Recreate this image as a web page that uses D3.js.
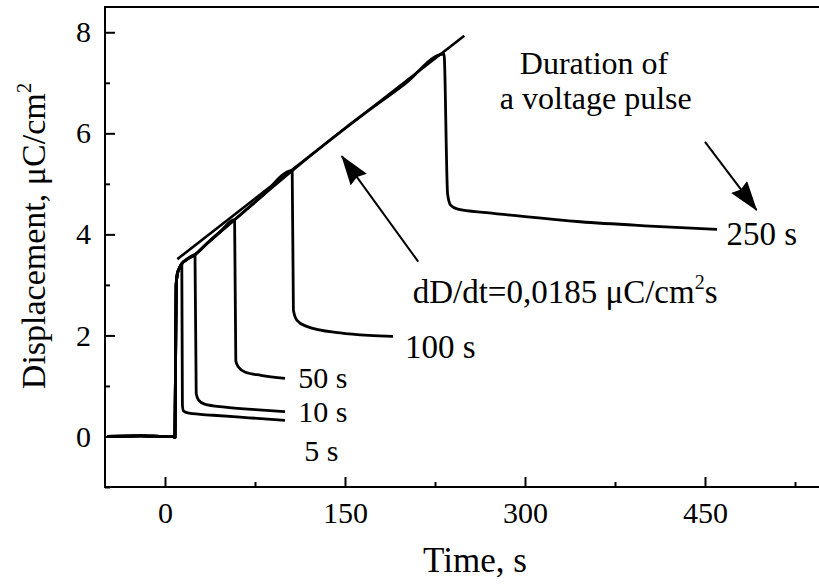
<!DOCTYPE html>
<html lang="en">
<head>
<meta charset="utf-8">
<title>Displacement vs time</title>
<script src="https://d3js.org/d3.v7.min.js"></script>
<style>
  body { margin: 0; background: #fff; }
</style>
</head>
<body>
<svg id="chart" width="819" height="586"></svg>
<script>
// common charging curve (time s, displacement uC/cm2)
var charging = [[-48, 0.0], [-20, 0.01], [0, 0.0], [7, 0.0], [8.3, -0.02], [9.3, 3.0], [10.3, 3.22],
    [12, 3.33], [14, 3.42], [18, 3.5], [25, 3.6], [35, 3.82], [45, 4.03], [58, 4.29], [80, 4.74],
    [106, 5.26], [150, 6.1], [200, 6.98], [232.5, 7.57]];

// relaxation after each pulse
var pulse5 = [[14, 3.42], [14.5, 0.62], [15.5, 0.5], [20, 0.46], [40, 0.42], [70, 0.37], [100, 0.32]];
var pulse10 = [[25, 3.6], [26, 0.85], [28, 0.72], [33, 0.64], [50, 0.58], [75, 0.53], [100, 0.49]];
var pulse50 = [[58, 4.29], [59, 1.5], [61, 1.38], [67, 1.27], [80, 1.21], [100, 1.15]];
var pulse100 = [[106, 5.26], [107, 2.5], [110, 2.3], [118, 2.18], [146, 2.05], [170, 2.0], [190, 1.98]];
var pulse250 = [[232.5, 7.57], [235.5, 4.8], [238, 4.58], [244, 4.5], [268, 4.43], [300, 4.35],
    [346, 4.25], [400, 4.17], [460, 4.1]];

var pulseNames = ['5 s', '10 s', '50 s', '100 s', '250 s'];
var pulses = [pulse5, pulse10, pulse50, pulse100, pulse250];
// label anchor (time, displacement) for each pulse name
var labelPos = [[116, -0.48], [111, 0.29], [111, 0.95], [200, 1.56], [468, 3.79]];
var labelSize = [30, 30, 30, 33, 33];

// fitted slope dD/dt = 0.0185
var slopeLine = [[10.3, 3.51], [249.4, 7.93]];

var xTicks = [0, 150, 300, 450];
var xMinor = [75, 225, 375, 525];
var yTicks = [0, 2, 4, 6, 8];
var yMinor = [-1, 1, 3, 5, 7];

var font = '"Liberation Serif", "Times New Roman", "DejaVu Serif", serif';

var margin = {left: 105, top: 7};
var width = 720, height = 480;

var svg = d3.select('#chart');
var g = svg.append('g').attr('transform', 'translate(' + margin.left + ',' + margin.top + ')');

var x = d3.scaleLinear().domain([-50, 550]).range([0, width]);
var y = d3.scaleLinear().domain([-1, 8.5]).range([height, 0]);

// axes, ticks pointing inward
g.append('g').attr('transform', 'translate(0,' + height + ')')
    .call(d3.axisBottom(x).tickValues(xTicks).tickSize(-10).tickPadding(15).tickFormat(d3.format('d')));
g.append('g').attr('transform', 'translate(0,' + height + ')')
    .call(d3.axisBottom(x).tickValues(xMinor).tickSize(-5).tickFormat(''));
g.append('g')
    .call(d3.axisLeft(y).tickValues(yTicks).tickSize(-10).tickPadding(14).tickFormat(d3.format('d')));
g.append('g').call(d3.axisLeft(y).tickValues(yMinor).tickSize(-5).tickFormat(''));

g.selectAll('.domain').remove();
g.selectAll('.tick line').attr('stroke', '#000').attr('stroke-width', 2);
g.selectAll('.tick text').style('font-size', '30px').style('font-family', font).attr('fill', '#000');

// frame
g.append('rect').attr('x', 0).attr('y', 0).attr('width', width).attr('height', height)
    .attr('fill', 'none').attr('stroke', '#000').attr('stroke-width', 2);

// axis titles
svg.append('text').attr('x', 475).attr('y', 572).attr('text-anchor', 'middle')
    .style('font-family', font).style('font-size', '35px').text('Time, s');

var ylab = svg.append('text').attr('transform', 'translate(45,236) rotate(-90)')
    .attr('text-anchor', 'middle').style('font-family', font).style('font-size', '34px');
ylab.append('tspan').text('Displacement, \u03bcC/cm');
ylab.append('tspan').attr('dy', -14).style('font-size', '21px').text('2');

var line = d3.line().x(function (d) { return x(d[0]); }).y(function (d) { return y(d[1]); })
    .curve(d3.curveMonotoneX);

// curves
pulses.forEach(function (p) {
    var pts = charging.filter(function (d) { return d[0] < p[0][0]; }).concat(p);
    g.append('path').datum(pts).attr('d', line)
        .attr('fill', 'none').attr('stroke', '#000').attr('stroke-width', 2.8)
        .attr('stroke-linejoin', 'round');
});

g.append('path').datum(slopeLine)
    .attr('d', d3.line().x(function (d) { return x(d[0]); }).y(function (d) { return y(d[1]); }))
    .attr('fill', 'none').attr('stroke', '#000').attr('stroke-width', 2.6);

// pulse labels
g.selectAll('.plabel').data(pulseNames).enter().append('text')
    .attr('class', 'plabel')
    .attr('x', function (d, i) { return x(labelPos[i][0]); })
    .attr('y', function (d, i) { return y(labelPos[i][1]); })
    .style('font-family', font)
    .style('font-size', function (d, i) { return labelSize[i] + 'px'; })
    .text(function (d) { return d; });

// annotations
g.append('text').attr('x', x(357.5)).attr('y', y(7.17)).attr('text-anchor', 'middle')
    .style('font-family', font).style('font-size', '32px').text('Duration of');
g.append('text').attr('x', x(359)).attr('y', y(6.49)).attr('text-anchor', 'middle')
    .style('font-family', font).style('font-size', '32px').text('a voltage pulse');

var slopeText = g.append('text').attr('x', x(206.4)).attr('y', y(2.64))
    .style('font-family', font).style('font-size', '33px');
slopeText.append('tspan').text('dD/dt=0,0185 \u03bcC/cm');
slopeText.append('tspan').attr('dy', -14).style('font-size', '20px').text('2');
slopeText.append('tspan').attr('dy', 14).text('s');

// arrows
svg.append('defs').append('marker').attr('id', 'head')
    .attr('viewBox', '0 0 30 20').attr('refX', 29).attr('refY', 10)
    .attr('markerWidth', 30).attr('markerHeight', 20).attr('markerUnits', 'userSpaceOnUse')
    .attr('orient', 'auto')
    .append('path').attr('d', 'M0,0 L30,10 L0,20 L3,10 Z').attr('fill', '#000');

var arrows = [[[211, 3.46], [147.3, 5.55]], [[450, 5.83], [493, 4.48]]];
arrows.forEach(function (a) {
    g.append('line')
        .attr('x1', x(a[0][0])).attr('y1', y(a[0][1]))
        .attr('x2', x(a[1][0])).attr('y2', y(a[1][1]))
        .attr('stroke', '#000').attr('stroke-width', 2)
        .attr('marker-end', 'url(#head)');
});
</script>
</body>
</html>
